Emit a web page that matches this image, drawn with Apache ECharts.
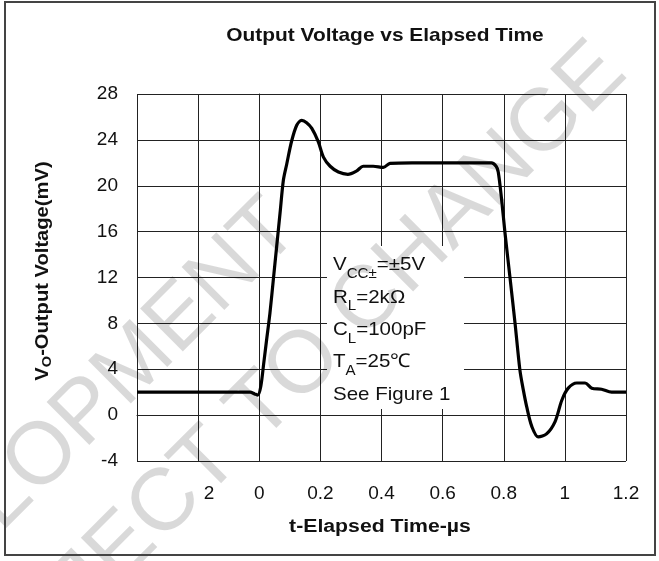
<!DOCTYPE html>
<html>
<head>
<meta charset="utf-8">
<script src="https://cdn.jsdelivr.net/npm/echarts@6/dist/echarts.min.js"></script>
<style>
  html, body { margin: 0; padding: 0; background: #fff; }
  #chart { width: 659px; height: 561px; }
</style>
</head>
<body>
<div id="chart"></div>
<script>
// ---- data ----
var timeUs = [-0.4, -0.3, -0.2, -0.1, -0.03, -0.015, -0.005, 0.005, 0.015, 0.024, 0.035, 0.046, 0.057, 0.068, 0.079, 0.09, 0.106, 0.123, 0.139, 0.155, 0.172, 0.193, 0.21, 0.232, 0.259, 0.29, 0.319, 0.34, 0.373, 0.406, 0.428, 0.5, 0.6, 0.7, 0.76, 0.775, 0.782, 0.793, 0.804, 0.82, 0.837, 0.853, 0.864, 0.875, 0.892, 0.913, 0.94, 0.968, 0.99, 1.011, 1.039, 1.066, 1.088, 1.12, 1.153, 1.2];
var voltageMv = [2.0, 2.0, 2.0, 2.0, 2.0, 1.85, 1.75, 2.5, 4.6, 6.55, 8.9, 11.8, 14.7, 17.6, 20.5, 21.9, 23.9, 25.3, 25.7, 25.5, 25.0, 23.85, 22.5, 21.7, 21.2, 21.0, 21.3, 21.7, 21.7, 21.6, 21.95, 22.0, 22.0, 22.0, 22.0, 21.7, 21.2, 18.8, 15.9, 12.1, 8.0, 3.9, 2.2, 0.74, -1.0, -1.9, -1.64, -0.56, 1.3, 2.35, 2.8, 2.8, 2.35, 2.26, 2.0, 2.0];

var xTickValues = [-0.4, -0.2, 0, 0.2, 0.4, 0.6, 0.8, 1, 1.2];
var xTickLabels = ['', '2', '0', '0.2', '0.4', '0.6', '0.8', '1', '1.2'];
var yTickValues = [-4, 0, 4, 8, 12, 16, 20, 24, 28];
var yTickLabels = ['-4', '0', '4', '8', '12', '16', '20', '24', '28'];

var titleText = 'Output Voltage vs Elapsed Time';
var xAxisTitle = 't-Elapsed Time-µs';
var yAxisTitleParts = ['V', 'O', '-Output Voltage(mV)'];
var conditionLines = [
  ['V', 'CC±', '=±5V'],
  ['R', 'L', '=2kΩ'],
  ['C', 'L', '=100pF'],
  ['T', 'A', '=25℃'],
  ['See Figure 1', '', '']
];
var watermarkLines = ['DEVELOPMENT', 'SUBJECT TO CHANGE'];

// ---- chart ----
var FONT = 'Liberation Sans, Arial, sans-serif';
var chart = echarts.init(document.getElementById('chart'), null, { renderer: 'canvas' });

function xLabel(v) {
  for (var i = 0; i < xTickValues.length; i++) {
    if (Math.abs(xTickValues[i] - v) < 1e-9) {
      if (xTickLabels[i] === '2') return '{shift|2}';
      return xTickLabels[i];
    }
  }
  return '';
}
function yLabel(v) {
  for (var i = 0; i < yTickValues.length; i++) {
    if (Math.abs(yTickValues[i] - v) < 1e-9) return yTickLabels[i];
  }
  return '';
}

var condText = conditionLines.map(function (l) {
  var s = '{n|' + l[0] + '}';
  if (l[1]) s += '{s|' + l[1] + '}';
  if (l[2]) s += '{n|' + l[2] + '}';
  return s;
}).join('\n');

var lineData = timeUs.map(function (t, i) { return [t, voltageMv[i]]; });

var option = {
  backgroundColor: '#ffffff',
  animation: false,
  grid: { left: 137, right: 33, top: 94, bottom: 100, containLabel: false },
  xAxis: {
    type: 'value', min: -0.4, max: 1.2, interval: 0.2,
    axisLine: { show: true, lineStyle: { color: '#222', width: 1 } },
    axisTick: { show: false },
    splitLine: { show: true, lineStyle: { color: '#222', width: 1 } },
    axisLabel: {
      margin: 23, fontFamily: FONT, fontSize: 19, color: '#111',
      formatter: xLabel,
      rich: { shift: { fontFamily: FONT, fontSize: 19, color: '#111', padding: [0, 0, 0, 22] } }
    }
  },
  yAxis: {
    type: 'value', min: -4, max: 28, interval: 4,
    axisLine: { show: true, lineStyle: { color: '#222', width: 1 } },
    axisTick: { show: false },
    splitLine: { show: true, lineStyle: { color: '#222', width: 1 } },
    axisLabel: { margin: 19, fontFamily: FONT, fontSize: 19, color: '#111', formatter: yLabel }
  },
  series: [{
    type: 'line', data: lineData, smooth: 0.3, symbol: 'none', z: 5,
    lineStyle: { color: '#000', width: 3.2 }
  }],
  graphic: [
    {
      type: 'text', x: 385, y: 36, scaleX: 1.1, z: 6,
      style: { text: titleText, fontFamily: FONT, fontSize: 19, fontWeight: 'bold', fill: '#111', textAlign: 'center', textVerticalAlign: 'middle' }
    },
    {
      type: 'text', x: 380, y: 527, scaleX: 1.18, z: 6,
      style: { text: xAxisTitle, fontFamily: FONT, fontSize: 18, fontWeight: 'bold', fill: '#111', textAlign: 'center', textVerticalAlign: 'middle' }
    },
    {
      type: 'text', x: 43, y: 271, rotation: Math.PI / 2, scaleX: 1.12, z: 6,
      style: {
        text: '{b|' + yAxisTitleParts[0] + '}{o|' + yAxisTitleParts[1] + '}{b|' + yAxisTitleParts[2] + '}',
        textAlign: 'center', textVerticalAlign: 'middle',
        rich: {
          b: { fontFamily: FONT, fontSize: 18, fontWeight: 'bold', fill: '#111', lineHeight: 22 },
          o: { fontFamily: FONT, fontSize: 13, fontWeight: 'bold', fill: '#111', lineHeight: 22, verticalAlign: 'bottom', padding: [5, 0, 0, 0] }
        }
      }
    },
    { type: 'rect', shape: { x: 327, y: 246, width: 137, height: 163 }, style: { fill: '#fff' }, z: 3 },
    {
      type: 'text', x: 333, y: 249, scaleX: 1.08, z: 6,
      style: {
        text: condText, fill: '#111', fontFamily: FONT, fontSize: 19, lineHeight: 32.3,
        rich: {
          n: { fontFamily: FONT, fontSize: 19, fill: '#111', lineHeight: 32.3 },
          s: { fontFamily: FONT, fontSize: 14, fill: '#111', verticalAlign: 'bottom', lineHeight: 32.3, padding: [10, 0, 0, 0] }
        }
      }
    },
    {
      type: 'text', x: 285, y: 215, rotation: Math.PI / 4, z: 100,
      style: { text: watermarkLines[0], fontFamily: FONT, fontSize: 88, fill: 'rgba(0,0,0,0.15)', textAlign: 'right', textVerticalAlign: 'middle' }
    },
    {
      type: 'text', x: 612, y: 58, rotation: Math.PI / 4, z: 100,
      style: { text: watermarkLines[1], fontFamily: FONT, fontSize: 88, fill: 'rgba(0,0,0,0.15)', textAlign: 'right', textVerticalAlign: 'middle' }
    },
    { type: 'rect', shape: { x: 5, y: 2, width: 650, height: 553 }, style: { fill: 'none', stroke: '#444', lineWidth: 2 }, z: 101 }
  ]
};
chart.setOption(option);
</script>
</body>
</html>
